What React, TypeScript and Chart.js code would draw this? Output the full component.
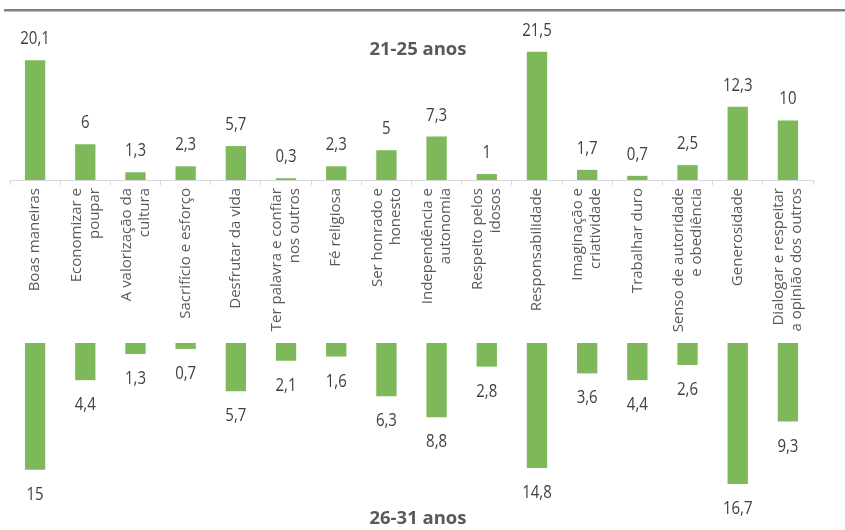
import React, { useEffect, useRef } from 'react';
import { Chart, registerables } from 'chart.js';

Chart.register(...registerables);

const categories: (string | string[])[] = [
  'Boas maneiras',
  ['Economizar e', 'poupar'],
  ['A valorização da', 'cultura'],
  'Sacrifício e esforço',
  'Desfrutar da vida',
  ['Ter palavra e confiar', 'nos outros'],
  'Fé religiosa',
  ['Ser honrado e', 'honesto'],
  ['Independência e', 'autonomia'],
  ['Respeito pelos', 'idosos'],
  'Responsabilidade',
  ['Imaginação e', 'criatividade'],
  'Trabalhar duro',
  ['Senso de autoridade', 'e obediência'],
  'Generosidade',
  ['Dialogar e respeitar', 'a opinião dos outros'],
];

const values2125 = [20.1, 6, 1.3, 2.3, 5.7, 0.3, 2.3, 5, 7.3, 1, 21.5, 1.7, 0.7, 2.5, 12.3, 10];
const values2631 = [15, 4.4, 1.3, 0.7, 5.7, 2.1, 1.6, 6.3, 8.8, 2.8, 14.8, 3.6, 4.4, 2.6, 16.7, 9.3];

const title2125 = '21-25 anos';
const title2631 = '26-31 anos';

const BAR_COLOR = '#7DB95B';
const LABEL_SIZE = 15;
const LABEL_LH = 1.2;

const fmt = (v: number) => String(v).replace('.', ',');

const makeValueLabels = (offset: number, down: boolean) => ({
  id: 'valueLabels',
  afterDatasetsDraw(chart: any) {
    const ctx = chart.ctx;
    const meta = chart.getDatasetMeta(0);
    const data = chart.data.datasets[0].data as number[];
    ctx.save();
    ctx.fillStyle = '#404040';
    ctx.font = '15px "Open Sans"';
    ctx.textAlign = 'center';
    ctx.textBaseline = 'middle';
    meta.data.forEach((el: any, i: number) => {
      const y = down ? el.y + offset : el.y - offset;
      ctx.save();
      ctx.translate(el.x, y);
      ctx.scale(1, 1.18);
      ctx.fillText(fmt(data[i]), 0, 0);
      ctx.restore();
    });
    ctx.restore();
  },
});

const topRule = {
  id: 'topRule',
  beforeDraw(chart: any) {
    const ctx = chart.ctx;
    ctx.save();
    ctx.fillStyle = '#7F7F7F';
    ctx.fillRect(4, 9, 841, 2.5);
    ctx.restore();
  },
};

// centre multi-line rotated category labels on their category
const centerLabels = {
  id: 'centerLabels',
  beforeDraw(chart: any) {
    const scale = chart.scales.x;
    if (!scale || !scale.getLabelItems) return;
    const items = scale.getLabelItems(chart.chartArea);
    const lh = LABEL_SIZE * LABEL_LH;
    items.forEach((it: any) => {
      if (it.__centered) return;
      const n = Array.isArray(it.label) ? it.label.length : 1;
      if (it.options && it.options.translation) {
        it.options.translation[0] -= ((n - 1) * lh) / 2;
      }
      it.__centered = true;
    });
  },
};

export default function App() {
  const topRef = useRef<HTMLCanvasElement>(null);
  const botRef = useRef<HTMLCanvasElement>(null);

  useEffect(() => {
    const top = new Chart(topRef.current!, {
      type: 'bar',
      data: {
        labels: categories,
        datasets: [
          {
            label: title2125,
            data: values2125,
            backgroundColor: BAR_COLOR,
            barPercentage: 0.405,
            categoryPercentage: 1,
          },
        ],
      },
      options: {
        responsive: false,
        maintainAspectRatio: false,
        animation: false,
        layout: { padding: { left: 10, right: 32, top: 31, bottom: 0 } },
        plugins: { legend: { display: false }, tooltip: { enabled: false } },
        scales: {
          x: {
            afterFit: (scale: any) => {
              scale.height = 165;
            },
            border: { display: true, color: '#D9D9D9', width: 1 },
            grid: {
              display: true,
              drawOnChartArea: false,
              drawTicks: true,
              tickLength: 5,
              color: '#D9D9D9',
              offset: true,
            },
            ticks: {
              autoSkip: false,
              minRotation: 90,
              maxRotation: 90,
              padding: 3,
              color: '#595959',
              font: { family: '"Open Sans"', size: LABEL_SIZE, lineHeight: LABEL_LH },
            },
          },
          y: { display: false, min: 0, max: 25 },
        },
      },
      plugins: [topRule, centerLabels, makeValueLabels(21, false)],
    });

    const bot = new Chart(botRef.current!, {
      type: 'bar',
      data: {
        labels: categories,
        datasets: [
          {
            label: title2631,
            data: values2631,
            backgroundColor: BAR_COLOR,
            barPercentage: 0.405,
            categoryPercentage: 1,
          },
        ],
      },
      options: {
        responsive: false,
        maintainAspectRatio: false,
        animation: false,
        layout: { padding: { left: 10, right: 32, top: 13, bottom: 18 } },
        plugins: { legend: { display: false }, tooltip: { enabled: false } },
        scales: {
          x: { display: false },
          y: { display: false, min: 0, max: 20, reverse: true },
        },
      },
      plugins: [makeValueLabels(25, true)],
    });

    return () => {
      top.destroy();
      bot.destroy();
    };
  }, []);

  const titleStyle: React.CSSProperties = {
    position: 'absolute',
    left: 318,
    width: 200,
    textAlign: 'center',
    fontFamily: '"Open Sans", sans-serif',
    fontWeight: 700,
    fontSize: 18.5,
    lineHeight: '20px',
    color: '#595959',
  };

  return (
    <div
      style={{
        position: 'absolute',
        left: 0,
        top: 0,
        width: 845,
        height: 530,
        background: '#ffffff',
        overflow: 'hidden',
      }}
    >
      <canvas
        ref={topRef}
        width={845}
        height={345}
        style={{ position: 'absolute', left: 0, top: 0, width: 845, height: 345 }}
      />
      <canvas
        ref={botRef}
        width={845}
        height={200}
        style={{ position: 'absolute', left: 0, top: 330, width: 845, height: 200 }}
      />
      <div style={{ ...titleStyle, top: 38 }}>{title2125}</div>
      <div style={{ ...titleStyle, top: 507 }}>{title2631}</div>
    </div>
  );
}
